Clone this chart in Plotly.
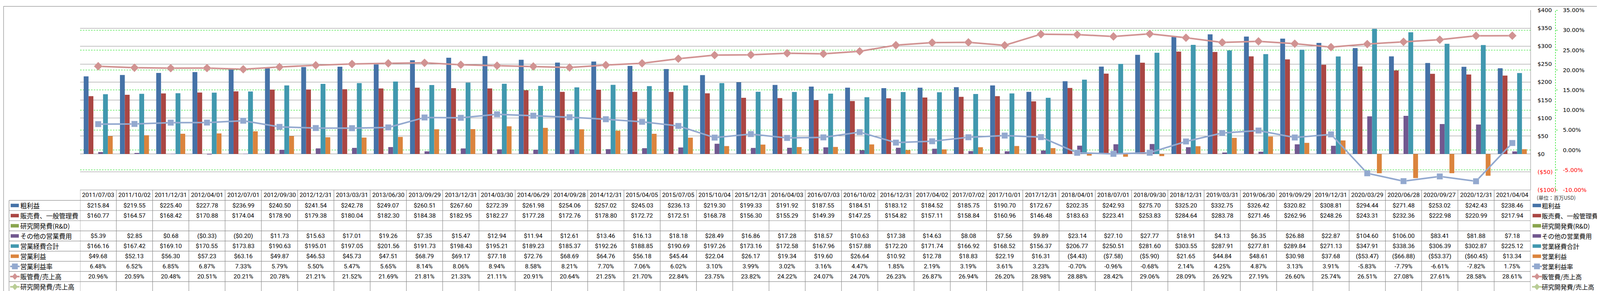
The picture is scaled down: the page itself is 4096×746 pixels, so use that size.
import plotly.graph_objects as go

# ---------------- data ----------------
dates = ["2011/07/03", "2011/10/02", "2011/12/31", "2012/04/01", "2012/07/01", "2012/09/30",
         "2012/12/31", "2013/03/31", "2013/06/30", "2013/09/29", "2013/12/31", "2014/03/30",
         "2014/06/29", "2014/09/28", "2014/12/31", "2015/04/05", "2015/07/05", "2015/10/04",
         "2015/12/31", "2016/04/03", "2016/07/03", "2016/10/02", "2016/12/31", "2017/04/02",
         "2017/07/02", "2017/10/01", "2017/12/31", "2018/04/01", "2018/07/01", "2018/09/30",
         "2018/12/31", "2019/03/31", "2019/06/30", "2019/09/29", "2019/12/31", "2020/03/29",
         "2020/06/28", "2020/09/27", "2020/12/31", "2021/04/04"]

gross = [215.84, 219.55, 225.40, 227.78, 236.99, 240.50, 241.54, 242.78, 249.07, 260.51,
         267.60, 272.39, 261.98, 254.06, 257.02, 245.03, 236.13, 219.30, 199.33, 191.92,
         187.55, 184.51, 183.12, 184.52, 185.75, 190.70, 172.67, 202.35, 242.93, 275.70,
         325.20, 332.75, 326.42, 320.82, 308.81, 294.44, 271.48, 253.02, 242.43, 238.46]

sga = [160.77, 164.57, 168.42, 170.88, 174.04, 178.90, 179.38, 180.04, 182.30, 184.38,
       182.95, 182.27, 177.28, 172.76, 178.80, 172.72, 172.51, 168.78, 156.30, 155.29,
       149.39, 147.25, 154.82, 157.11, 158.84, 160.96, 146.48, 183.63, 223.41, 253.83,
       284.64, 283.78, 271.46, 262.96, 248.26, 243.31, 232.36, 222.98, 220.99, 217.94]

rnd = [None] * 40

other = [5.39, 2.85, 0.68, -0.33, -0.20, 11.73, 15.63, 17.01, 19.26, 7.35,
         15.47, 12.94, 11.94, 12.61, 13.46, 16.13, 18.18, 28.49, 16.86, 17.28,
         18.57, 10.63, 17.38, 14.63, 8.08, 7.56, 9.89, 23.14, 27.10, 27.77,
         18.91, 4.13, 6.35, 26.88, 22.87, 104.60, 106.00, 83.41, 81.88, 7.18]

opex = [166.16, 167.42, 169.10, 170.55, 173.83, 190.63, 195.01, 197.05, 201.56, 191.73,
        198.43, 195.21, 189.23, 185.37, 192.26, 188.85, 190.69, 197.26, 173.16, 172.58,
        167.96, 157.88, 172.20, 171.74, 166.92, 168.52, 156.37, 206.77, 250.51, 281.60,
        303.55, 287.91, 277.81, 289.84, 271.13, 347.91, 338.36, 306.39, 302.87, 225.12]

opinc = [49.68, 52.13, 56.30, 57.23, 63.16, 49.87, 46.53, 45.73, 47.51, 68.79,
         69.17, 77.18, 72.76, 68.69, 64.76, 56.18, 45.44, 22.04, 26.17, 19.34,
         19.60, 26.64, 10.92, 12.78, 18.83, 22.19, 16.31, -4.43, -7.58, -5.90,
         21.65, 44.84, 48.61, 30.98, 37.68, -53.47, -66.88, -53.37, -60.45, 13.34]

opm_pct = [6.48, 6.52, 6.85, 6.87, 7.33, 5.79, 5.50, 5.47, 5.65, 8.14,
           8.06, 8.94, 8.58, 8.21, 7.70, 7.06, 6.02, 3.10, 3.99, 3.02,
           3.16, 4.47, 1.85, 2.19, 3.19, 3.61, 3.23, -0.70, -0.96, -0.68,
           2.14, 4.25, 4.87, 3.13, 3.91, -5.83, -7.79, -6.61, -7.82, 1.75]

sga_ratio_pct = [20.96, 20.59, 20.48, 20.51, 20.21, 20.78, 21.21, 21.52, 21.69, 21.81,
                 21.33, 21.11, 20.91, 20.64, 21.25, 21.70, 22.84, 23.75, 23.82, 24.22,
                 24.07, 24.70, 26.23, 26.87, 26.94, 26.20, 28.98, 28.88, 28.42, 29.06,
                 28.09, 26.92, 27.19, 26.60, 25.74, 26.51, 27.08, 27.61, 28.58, 28.61]

rnd_ratio_pct = [None] * 40

series_names = ["粗利益", "販売費、一般管理費", "研究開発費(R&D)", "その他の営業費用",
                "営業経費合計", "営業利益", "営業利益率", "販管費/売上高", "研究開発費/売上高"]
series_kinds = ["usd", "usd", "usd", "usd", "usd", "usd", "pct", "pct", "pct"]
series_colors = ["#4572A7", "#AA4643", "#89A54E", "#71588F", "#4198AF", "#DB843D",
                 "#93A9CF", "#D19392", "#B9CD96"]

usd_ticks = [-100, -50, 0, 50, 100, 150, 200, 250, 300, 350, 400]
pct_ticks = [-10, -5, 0, 5, 10, 15, 20, 25, 30, 35]
unit_label = "(単位：百万USD)"

# ---------------- geometry ----------------
W, H = 4096, 746
FX, FY = W / 5877.0, H / 1071.0


def px(v):
    return v * FX


def py(v):
    return v * FY


L = px(282)
R_PLOT = px(5610)
R_AX2 = px(5702)
T = py(15)
B = py(688)
PW = R_AX2 - L
PH = B - T


def xp(xpx):
    return (xpx - L) / PW


def yp(ypx):
    return (B - ypx) / PH


row_edges = [688, 727, 765, 803, 841, 879, 917, 955, 993, 1031, 1070]
GRID = "#8C8C8C"
GREEN = "#00E000"
RED = "#FF0000"

TABLE_FONT = "Roboto, Liberation Sans, sans-serif"
CJK_FONT = "Noto Sans CJK JP, Noto Sans, sans-serif"
AXIS_FONT = "DejaVu Sans, Verdana, sans-serif"


def fmt_usd(v):
    if v is None:
        return ""
    return f"${v:,.2f}" if v >= 0 else f"(${-v:,.2f})"


def fmt_pct(v):
    if v is None:
        return ""
    return f"{v:.2f}%"


fig = go.Figure()

bar_values = [gross, sga, rnd, other, opex, opinc]
for i, vals in enumerate(bar_values):
    fig.add_trace(go.Bar(x=dates, y=vals, name=series_names[i],
                         marker=dict(color=series_colors[i], line=dict(width=0)),
                         yaxis="y"))

line_values = [opm_pct, sga_ratio_pct, rnd_ratio_pct]
line_symbols = ["square", "diamond", "diamond"]
line_sizes = [15.5, 17, 17]
for j, vals in enumerate(line_values):
    k = 6 + j
    fig.add_trace(go.Scatter(
        x=dates, y=[None if v is None else v / 100.0 for v in vals],
        name=series_names[k], yaxis="y2", mode="lines+markers",
        line=dict(color=series_colors[k], width=4),
        marker=dict(symbol=line_symbols[j], size=line_sizes[j], color=series_colors[k],
                    line=dict(color="rgba(255,255,255,0.35)", width=1)),
        connectgaps=False))

# ---------------- shapes ----------------
shapes = []
# outer frame
shapes.append(dict(type="rect", xref="paper", yref="paper",
                   x0=xp(px(1)), x1=xp(px(5876)), y0=yp(py(1)), y1=yp(py(1070)),
                   line=dict(color=GRID, width=1.2), fillcolor="rgba(0,0,0,0)", layer="below"))
# secondary axis dashed line
shapes.append(dict(type="line", xref="paper", yref="paper", x0=1, x1=1, y0=0, y1=1,
                   line=dict(color=GREEN, width=1.2, dash="4px,3px")))
# table horizontal lines (data area)
n = len(dates)
for k, e in enumerate(row_edges):
    shapes.append(dict(type="line", xref="x", yref="paper", x0=-0.5, x1=n - 0.5,
                       y0=yp(py(e)), y1=yp(py(e)), line=dict(color=GRID, width=1.2)))
    if k >= 1:
        shapes.append(dict(type="line", xref="paper", yref="paper",
                           x0=xp(px(21)), x1=xp(px(282)), y0=yp(py(e)), y1=yp(py(e)),
                           line=dict(color=GRID, width=1.2)))
# table vertical lines
for i in range(n + 1):
    shapes.append(dict(type="line", xref="x", yref="paper", x0=i - 0.5, x1=i - 0.5,
                       y0=yp(py(row_edges[0])), y1=yp(py(row_edges[-1])),
                       line=dict(color=GRID, width=1.2)))
shapes.append(dict(type="line", xref="paper", yref="paper", x0=xp(px(21)), x1=xp(px(21)),
                   y0=yp(py(row_edges[1])), y1=yp(py(row_edges[-1])),
                   line=dict(color=GRID, width=1.2)))


def add_key(x0f, x1f, yc, idx):
    color = series_colors[idx]
    if idx < 6:
        h = py(13) / 2
        shapes.append(dict(type="rect", xref="paper", yref="paper",
                           x0=xp(px(x0f)), x1=xp(px(x1f)), y0=yp(yc - h), y1=yp(yc + h),
                           line=dict(width=0), fillcolor=color))
    else:
        shapes.append(dict(type="line", xref="paper", yref="paper",
                           x0=xp(px(x0f - 2)), x1=xp(px(x1f + 3)), y0=yp(yc), y1=yp(yc),
                           line=dict(color=color, width=4)))
        cx = px((x0f + x1f) / 2 + 0.5)
        r = 7.5
        if idx == 6:
            path = (f"M{xp(cx - r)},{yp(yc - r)} L{xp(cx + r)},{yp(yc - r)} "
                    f"L{xp(cx + r)},{yp(yc + r)} L{xp(cx - r)},{yp(yc + r)} Z")
        else:
            path = (f"M{xp(cx)},{yp(yc - r - 1)} L{xp(cx + r)},{yp(yc)} "
                    f"L{xp(cx)},{yp(yc + r + 1)} L{xp(cx - r)},{yp(yc)} Z")
        shapes.append(dict(type="path", xref="paper", yref="paper", path=path,
                           line=dict(width=0), fillcolor=color))


# ---------------- annotations ----------------
annotations = []
hdr_yc = py((row_edges[0] + row_edges[1]) / 2)
for i, d in enumerate(dates):
    annotations.append(dict(xref="x", yref="paper", x=d, y=yp(hdr_yc), text=d,
                            showarrow=False, xanchor="center", yanchor="middle",
                            font=dict(family=TABLE_FONT, size=15.5, color="#000000")))

row_data = [gross, sga, rnd, other, opex, opinc, opm_pct, sga_ratio_pct, rnd_ratio_pct]
for r, vals in enumerate(row_data):
    yc = py((row_edges[r + 1] + row_edges[r + 2]) / 2)
    for i, v in enumerate(vals):
        txt = fmt_usd(v) if series_kinds[r] == "usd" else fmt_pct(v)
        if txt:
            annotations.append(dict(xref="x", yref="paper", x=dates[i], y=yp(yc), text=txt,
                                    showarrow=False, xanchor="center", yanchor="middle",
                                    font=dict(family=TABLE_FONT, size=15.5, color="#000000")))
    # left label column
    add_key(27, 57, yc, r)
    annotations.append(dict(xref="paper", yref="paper", x=xp(px(61)), y=yp(yc),
                            text=series_names[r], showarrow=False, xanchor="left",
                            yanchor="middle", borderpad=0,
                            font=dict(family=CJK_FONT, size=16.5, color="#000000")))
    # right legend column
    add_key(5618, 5649, yc, r)
    annotations.append(dict(xref="paper", yref="paper", x=xp(px(5651)), y=yp(yc),
                            text=series_names[r], showarrow=False, xanchor="left",
                            yanchor="middle", borderpad=0,
                            font=dict(family=CJK_FONT, size=16, color="#000000")))

annotations.append(dict(xref="paper", yref="paper", x=xp(px(5630)), y=yp(py(717)),
                        text=unit_label, showarrow=False, xanchor="left", yanchor="middle",
                        font=dict(family=CJK_FONT, size=13, color="#333333")))


def usd_tick(v):
    if v < 0:
        return f"<span style='color:{RED}'>(${-v})</span>"
    return f"${v}"


def pct_tick(v):
    s = f"{v:.2f}%"
    if v < 0:
        return f"<span style='color:{RED}'>{s}</span>"
    return s


fig.update_layout(
    width=W, height=H,
    margin=dict(l=L, r=W - R_AX2, t=T, b=H - B, pad=0),
    paper_bgcolor="white", plot_bgcolor="white",
    showlegend=False,
    barmode="group", bargap=0.2, bargroupgap=0,
    xaxis=dict(type="category", domain=[0, xp(R_PLOT)], range=[-0.5, n - 0.5],
               showticklabels=False, showgrid=False, zeroline=False, showline=False,
               ticks="", fixedrange=True),
    yaxis=dict(side="right", anchor="x", range=[-100, 400],
               tickmode="array", tickvals=usd_ticks, ticktext=[usd_tick(v) for v in usd_ticks],
               showgrid=True, gridcolor=GRID, gridwidth=1.2,
               showline=True, linecolor=GRID, linewidth=1.2,
               ticks="outside", ticklen=14, tickcolor="rgba(0,0,0,0)",
               zeroline=False,
               tickfont=dict(family=AXIS_FONT, size=14.5, color="#000000")),
    yaxis2=dict(overlaying="y", side="right", anchor="free", position=1,
                range=[-0.10, 0.35], tickmode="array",
                tickvals=[v / 100.0 for v in pct_ticks],
                ticktext=[pct_tick(v) for v in pct_ticks],
                showgrid=True, gridcolor=GREEN, gridwidth=1, griddash="4px,3px",
                showline=False, zeroline=False,
                ticks="outside", ticklen=5, tickcolor=GREEN, tickwidth=1.2,
                ticklabelstandoff=10,
                tickfont=dict(family=AXIS_FONT, size=14.5, color="#000000")),
    shapes=shapes,
    annotations=annotations,
)

fig.write_html("out.html")
